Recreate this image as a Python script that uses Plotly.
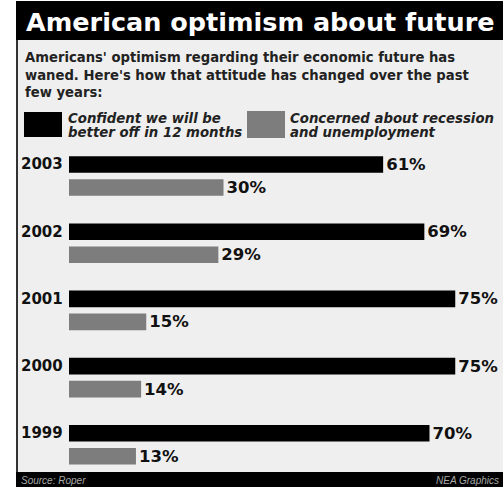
import plotly.graph_objects as go

W, H = 503, 487

years = ["2003", "2002", "2001", "2000", "1999"]
confident = [61, 69, 75, 75, 70]
concerned = [30, 29, 15, 14, 13]
series_names = ["Confident we will be better off in 12 months",
                "Concerned about recession and unemployment"]

title_text = "American optimism about future"
subtitle_lines = ["Americans' optimism regarding their economic future has",
                  "waned. Here's how that attitude has changed over the past",
                  "few years:"]
legend_lines = [["Confident we will be", "better off in 12 months"],
                ["Concerned about recession", "and unemployment"]]
source_text = "Source: Roper"
credit_text = "NEA Graphics"

BLACK = "#000000"
GRAY = "#7d7d7d"
BG = "#efefef"
FONT = "DejaVu Sans"


def px(x):
    return x / W


def py(y):
    return 1 - y / H


fig = go.Figure()
fig.add_trace(go.Bar(
    y=years, x=confident, orientation="h", name=series_names[0],
    marker=dict(color=BLACK, line=dict(width=0)),
    text=[f"{v}%" for v in confident], textposition="outside",
    textfont=dict(family=FONT, size=16.5, color="#111", weight=700),
    cliponaxis=False, constraintext="none",
))
fig.add_trace(go.Bar(
    y=years, x=concerned, orientation="h", name=series_names[1],
    marker=dict(color=GRAY, line=dict(width=0)),
    text=[f"{v}%" for v in concerned], textposition="outside",
    textfont=dict(family=FONT, size=16.5, color="#111", weight=700),
    cliponaxis=False, constraintext="none",
))

scale = 5.15
x0 = 69
band = 67.2
top_center = 176
dom_top = top_center - band / 2
dom_bot = dom_top + band * len(years)

shapes = [
    dict(type="rect", xref="paper", yref="paper", x0=px(16), x1=px(503), y0=py(472), y1=py(40),
         fillcolor=BG, line=dict(width=0), layer="below"),
    dict(type="rect", xref="paper", yref="paper", x0=px(16), x1=px(503), y0=py(40), y1=py(1),
         fillcolor=BLACK, line=dict(width=0), layer="below"),
    dict(type="line", xref="paper", yref="paper", x0=px(17), x1=px(17), y0=py(472), y1=py(40),
         line=dict(color="#333", width=2), layer="above"),
    dict(type="rect", xref="paper", yref="paper", x0=px(16), x1=px(503), y0=py(487), y1=py(472),
         fillcolor=BLACK, line=dict(width=0), layer="above"),
    dict(type="rect", xref="paper", yref="paper", x0=px(24), x1=px(62), y0=py(137), y1=py(112),
         fillcolor=BLACK, line=dict(width=0)),
    dict(type="rect", xref="paper", yref="paper", x0=px(247), x1=px(285), y0=py(138), y1=py(111),
         fillcolor=GRAY, line=dict(width=0)),
]

ann = []
ann.append(dict(text=title_text, xref="paper", yref="paper", x=px(24), y=py(22),
                xanchor="left", yanchor="middle", showarrow=False,
                font=dict(family=FONT, size=25.5, color="white", weight=700)))
for i, line in enumerate(subtitle_lines):
    ann.append(dict(text=line, xref="paper", yref="paper", x=px(23), y=py(58 + 17 * i),
                    xanchor="left", yanchor="middle", showarrow=False,
                    font=dict(family=FONT, size=13.2, color="#222", weight=700)))
for j, (lx, lines) in enumerate(zip([66, 288], legend_lines)):
    for i, line in enumerate(lines):
        ann.append(dict(text=line, xref="paper", yref="paper", x=px(lx), y=py(118 + 14.5 * i),
                        xanchor="left", yanchor="middle", showarrow=False,
                        font=dict(family=FONT, size=13.3, color="#222", weight=700, style="italic")))
for i, yr in enumerate(years):
    ann.append(dict(text=yr, xref="x", yref="y", x=0, y=i, xanchor="right", yanchor="middle",
                    xshift=-4, yshift=11.5, showarrow=False,
                    font=dict(family=FONT, size=15, color="#111", weight=700)))
ann.append(dict(text=source_text, xref="paper", yref="paper", x=px(19), y=py(480),
                xanchor="left", yanchor="middle", showarrow=False,
                font=dict(family="Liberation Sans", size=10, color="#aaa", style="italic")))
ann.append(dict(text=credit_text, xref="paper", yref="paper", x=px(501), y=py(480),
                xanchor="right", yanchor="middle", showarrow=False,
                font=dict(family="Liberation Sans", size=10, color="#aaa", style="italic")))

fig.update_layout(
    width=W, height=H, margin=dict(l=0, r=0, t=0, b=0),
    paper_bgcolor="white", plot_bgcolor="rgba(0,0,0,0)",
    barmode="group", bargap=0.315, bargroupgap=0.28,
    showlegend=False,
    shapes=shapes, annotations=ann,
    xaxis=dict(domain=[px(x0), 1], range=[0, (W - x0) / scale], showgrid=False,
               zeroline=False, showticklabels=False, showline=False, fixedrange=True),
    yaxis=dict(domain=[py(dom_bot), py(dom_top)], type="category",
               categoryorder="array", categoryarray=years,
               range=[len(years) - 0.5, -0.5], showgrid=False, zeroline=False,
               showticklabels=False, showline=False, fixedrange=True),
)

fig.write_html("out.html", config={"displayModeBar": False},
               post_script="document.body.style.margin='0';document.body.style.overflow='hidden';")
